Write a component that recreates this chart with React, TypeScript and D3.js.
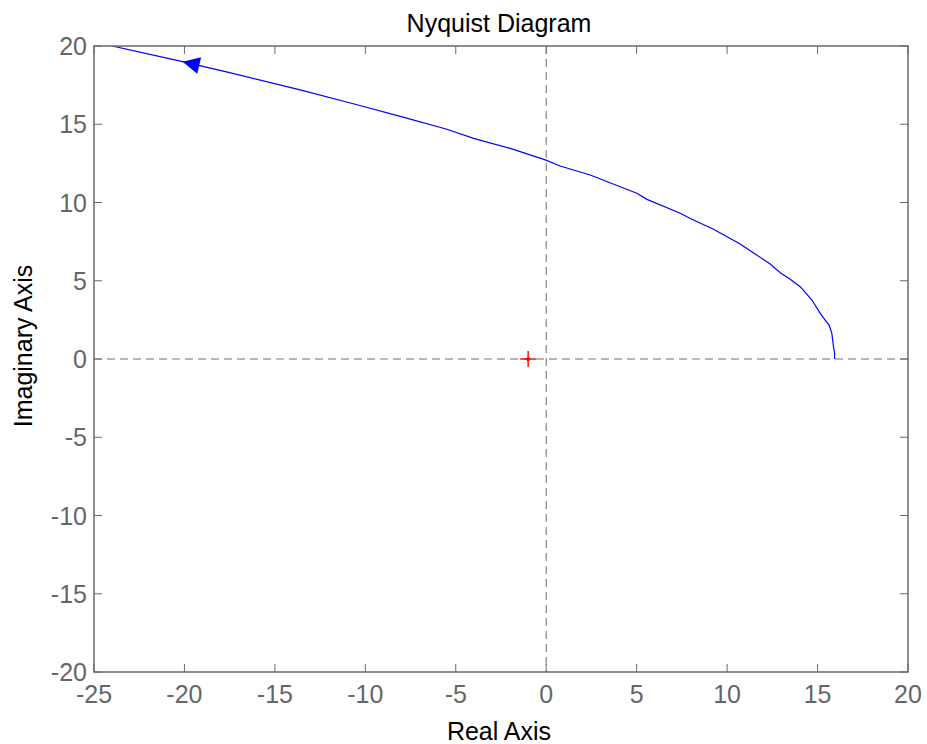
import * as d3 from 'd3';
import React from 'react';

// Nyquist curve (real part, imaginary part), from w=0 upward
const realPart = [15.94, 15.94, 15.88, 15.79, 15.64, 15.42, 15.15, 14.69, 14.04, 13.49, 12.94, 12.38, 10.72, 9.25, 8.05, 7.41, 5.57, 5.01, 2.43, 0.77, -0.05, -1.99, -4.02, -5.49, -8.07, -10.3, -13.6, -17.5, -20.1, -24.0];
const imagPart = [0, 0.4, 0.79, 1.64, 2.17, 2.49, 2.92, 3.77, 4.62, 5.09, 5.51, 6.07, 7.35, 8.29, 8.93, 9.31, 10.2, 10.59, 11.76, 12.33, 12.72, 13.46, 14.1, 14.68, 15.5, 16.2, 17.2, 18.3, 19.0, 20.0];
const arrowIndex = 28; // arrow tip sits on this point
const criticalPoint = [-1, 0];

const xTicks = [-25, -20, -15, -10, -5, 0, 5, 10, 15, 20];
const yTicks = [-20, -15, -10, -5, 0, 5, 10, 15, 20];

export default function App() {
  const width = 927, height = 744;
  const m = { top: 46, right: 19, bottom: 72, left: 94 };
  const x = d3.scaleLinear().domain([-25, 20]).range([m.left, width - m.right]);
  const y = d3.scaleLinear().domain([-20, 20]).range([height - m.bottom, m.top]);

  const pts = realPart.map((r, i) => [r, imagPart[i]] as [number, number]);
  const line = d3.line<[number, number]>().x(d => x(d[0])).y(d => y(d[1]));

  // arrow head along the curve direction
  const tip = pts[arrowIndex];
  const prev = pts[arrowIndex - 1];
  const tx = x(tip[0]), ty = y(tip[1]);
  let dx = tx - x(prev[0]), dy = ty - y(prev[1]);
  const len = Math.hypot(dx, dy);
  dx /= len; dy /= len;
  const aL = 17, aW = 8.5;
  const bx = tx - dx * aL, by = ty - dy * aL;
  const arrow = `M${tx},${ty}L${bx - dy * aW},${by + dx * aW}L${bx + dy * aW},${by - dx * aW}Z`;

  const axisCol = '#6a6a6a';
  const tickLen = 8;
  const font = 'Liberation Sans, Arial, sans-serif';
  const x0 = m.left, x1 = width - m.right, y0 = m.top, y1 = height - m.bottom;
  const cx = x(criticalPoint[0]), cy = y(criticalPoint[1]);

  return (
    <svg width={width} height={height} style={{ position: 'absolute', left: 0, top: 0, background: '#fff' }}>
      <defs>
        <clipPath id="plotClip">
          <rect x={x0} y={y0} width={x1 - x0} height={y1 - y0} />
        </clipPath>
      </defs>
      <rect x={0} y={0} width={width} height={height} fill="#fff" />

      {/* zero lines */}
      <line x1={x0} x2={x1} y1={y(0)} y2={y(0)} stroke="#6e6e6e" strokeWidth={1} strokeDasharray="8,5" />
      <line x1={x(0)} x2={x(0)} y1={y0} y2={y1} stroke="#6e6e6e" strokeWidth={1} strokeDasharray="8,5" />

      {/* curve */}
      <g clipPath="url(#plotClip)">
        <path d={line(pts) || ''} fill="none" stroke="#0000ff" strokeWidth={1.2} />
        <path d={arrow} fill="#0000ff" />
      </g>

      {/* -1 point */}
      <g stroke="#ff0000" strokeWidth={1.4}>
        <line x1={cx - 8} x2={cx + 8} y1={cy} y2={cy} />
        <line x1={cx} x2={cx} y1={cy - 8} y2={cy + 8} />
      </g>
      <circle cx={cx} cy={cy} r={2} fill="#ff0000" />

      {/* ticks */}
      <g stroke={axisCol} strokeWidth={1}>
        {xTicks.map(t => (
          <g key={'xt' + t}>
            <line x1={x(t)} x2={x(t)} y1={y1} y2={y1 - tickLen} />
            <line x1={x(t)} x2={x(t)} y1={y0} y2={y0 + tickLen} />
          </g>
        ))}
        {yTicks.map(t => (
          <g key={'yt' + t}>
            <line x1={x0} x2={x0 + tickLen} y1={y(t)} y2={y(t)} />
            <line x1={x1} x2={x1 - tickLen} y1={y(t)} y2={y(t)} />
          </g>
        ))}
      </g>

      {/* box */}
      <rect x={x0} y={y0} width={x1 - x0} height={y1 - y0} fill="none" stroke={axisCol} strokeWidth={1.5} />

      {/* tick labels */}
      <g fill="#666" fontFamily={font} fontSize={25}>
        {xTicks.map(t => (
          <text key={'xl' + t} x={x(t)} y={703} textAnchor="middle">{t}</text>
        ))}
        {yTicks.map(t => (
          <text key={'yl' + t} x={87} y={y(t) + 9} textAnchor="end">{t}</text>
        ))}
      </g>

      <text x={499} y={32} textAnchor="middle" fontFamily={font} fontSize={25} fill="#000">Nyquist Diagram</text>
      <text x={499} y={740} textAnchor="middle" fontFamily={font} fontSize={25} fill="#000">Real Axis</text>
      <text transform={`translate(32,346) rotate(-90)`} textAnchor="middle" fontFamily={font} fontSize={25} fill="#000">Imaginary Axis</text>
    </svg>
  );
}
